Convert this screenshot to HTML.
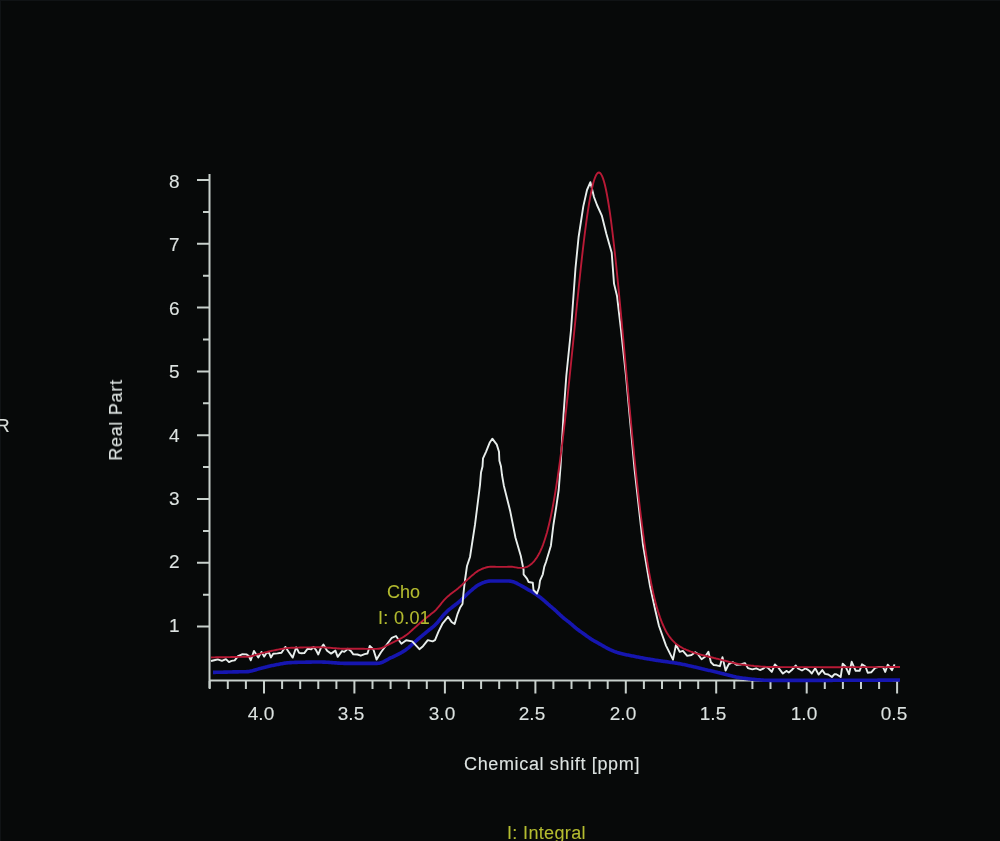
<!DOCTYPE html>
<html><head><meta charset="utf-8"><style>
html,body{margin:0;padding:0;}
body{width:1000px;height:841px;overflow:hidden;background:#070909;box-shadow:inset 1px 1px 0 #101315;position:relative;font-family:"Liberation Sans",sans-serif;}
svg{position:absolute;left:0;top:0;filter:blur(0.35px);}
.yl{position:absolute;left:140px;width:39.5px;text-align:right;color:#dde3e1;font-size:19px;line-height:22px;}
.xl{position:absolute;top:702.8px;width:80px;text-align:center;color:#dde3e1;font-size:19px;line-height:22px;}
.t{position:absolute;white-space:nowrap;font-size:18px;line-height:22px;}
.t,.xl,.yl{-webkit-text-stroke:0.1px currentColor;will-change:transform;}
</style></head><body>
<svg width="1000" height="841" viewBox="0 0 1000 841">
<g stroke="#c8d0cc" stroke-width="2" fill="none">
<path d="M209.5,174V688"/>
<path d="M209,680.5H899"/>
<path d="M197,626.6H210 M197,562.8H210 M197,499.0H210 M197,435.2H210 M197,371.4H210 M197,307.6H210 M197,243.8H210 M197,180.0H210 M203,594.7H210 M203,530.9H210 M203,467.1H210 M203,403.3H210 M203,339.5H210 M203,275.7H210 M203,211.9H210"/>
<path d="M897.1,681V693.5 M879.1,681V689 M861.0,681V689 M842.9,681V689 M824.8,681V689 M806.7,681V693.5 M788.6,681V689 M770.5,681V689 M752.4,681V689 M734.3,681V689 M716.2,681V693.5 M698.2,681V689 M680.1,681V689 M662.0,681V689 M643.9,681V689 M625.8,681V693.5 M607.7,681V689 M589.6,681V689 M571.5,681V689 M553.4,681V689 M535.4,681V693.5 M517.3,681V689 M499.2,681V689 M481.1,681V689 M463.0,681V689 M444.9,681V693.5 M426.8,681V689 M408.7,681V689 M390.6,681V689 M372.5,681V689 M354.4,681V693.5 M336.4,681V689 M318.3,681V689 M300.2,681V689 M282.1,681V689 M264.0,681V693.5 M245.9,681V689 M227.8,681V689 M209.7,681V689"/>
</g>
<path d="M213.0,672.4 L214.0,672.4 L215.0,672.4 L216.0,672.3 L217.0,672.3 L218.0,672.3 L219.0,672.3 L220.0,672.2 L221.0,672.2 L222.0,672.2 L223.0,672.2 L224.0,672.1 L225.0,672.1 L226.0,672.1 L227.0,672.1 L228.0,672.0 L229.0,672.0 L230.0,672.0 L231.0,672.0 L232.0,672.0 L233.0,671.9 L234.0,671.9 L235.0,671.9 L236.0,671.9 L237.0,671.9 L238.0,671.9 L239.0,671.8 L240.0,671.8 L241.0,671.8 L242.0,671.8 L243.0,671.8 L244.0,671.7 L245.0,671.7 L246.0,671.7 L247.0,671.6 L248.0,671.6 L249.0,671.5 L250.0,671.3 L251.0,671.1 L252.0,670.9 L253.0,670.6 L254.0,670.3 L255.0,670.0 L256.0,669.7 L257.0,669.4 L258.0,669.1 L259.0,668.8 L260.0,668.5 L261.0,668.3 L262.0,668.0 L263.0,667.8 L264.0,667.5 L265.0,667.3 L266.0,667.0 L267.0,666.8 L268.0,666.5 L269.0,666.3 L270.0,666.1 L271.0,665.8 L272.0,665.6 L273.0,665.4 L274.0,665.2 L275.0,665.0 L276.0,664.8 L277.0,664.6 L278.0,664.4 L279.0,664.2 L280.0,664.0 L281.0,663.8 L282.0,663.7 L283.0,663.5 L284.0,663.3 L285.0,663.1 L286.0,663.0 L287.0,662.9 L288.0,662.8 L289.0,662.7 L290.0,662.6 L291.0,662.6 L292.0,662.5 L293.0,662.5 L294.0,662.5 L295.0,662.4 L296.0,662.4 L297.0,662.4 L298.0,662.3 L299.0,662.3 L300.0,662.3 L301.0,662.2 L302.0,662.2 L303.0,662.2 L304.0,662.2 L305.0,662.2 L306.0,662.1 L307.0,662.1 L308.0,662.1 L309.0,662.1 L310.0,662.1 L311.0,662.1 L312.0,662.0 L313.0,662.0 L314.0,662.0 L315.0,662.0 L316.0,662.0 L317.0,662.0 L318.0,662.0 L319.0,662.0 L320.0,662.0 L321.0,662.0 L322.0,662.0 L323.0,662.1 L324.0,662.1 L325.0,662.1 L326.0,662.2 L327.0,662.3 L328.0,662.3 L329.0,662.4 L330.0,662.5 L331.0,662.5 L332.0,662.6 L333.0,662.7 L334.0,662.8 L335.0,662.9 L336.0,662.9 L337.0,663.0 L338.0,663.1 L339.0,663.1 L340.0,663.2 L341.0,663.3 L342.0,663.3 L343.0,663.3 L344.0,663.4 L345.0,663.4 L346.0,663.4 L347.0,663.4 L348.0,663.4 L349.0,663.4 L350.0,663.4 L351.0,663.4 L352.0,663.4 L353.0,663.4 L354.0,663.4 L355.0,663.4 L356.0,663.4 L357.0,663.4 L358.0,663.4 L359.0,663.4 L360.0,663.4 L361.0,663.4 L362.0,663.4 L363.0,663.4 L364.0,663.4 L365.0,663.4 L366.0,663.4 L367.0,663.4 L368.0,663.4 L369.0,663.4 L370.0,663.4 L371.0,663.4 L372.0,663.4 L373.0,663.4 L374.0,663.4 L375.0,663.4 L376.0,663.4 L377.0,663.4 L378.0,663.3 L379.0,663.2 L380.0,663.0 L381.0,662.8 L382.0,662.4 L383.0,662.0 L384.0,661.5 L385.0,660.9 L386.0,660.4 L387.0,659.8 L388.0,659.3 L389.0,658.7 L390.0,658.2 L391.0,657.7 L392.0,657.3 L393.0,656.8 L394.0,656.3 L395.0,655.8 L396.0,655.4 L397.0,654.9 L398.0,654.4 L399.0,653.9 L400.0,653.3 L401.0,652.8 L402.0,652.2 L403.0,651.6 L404.0,651.0 L405.0,650.4 L406.0,649.7 L407.0,648.9 L408.0,648.1 L409.0,647.3 L410.0,646.4 L411.0,645.6 L412.0,644.6 L413.0,643.7 L414.0,642.8 L415.0,641.9 L416.0,641.0 L417.0,640.1 L418.0,639.2 L419.0,638.3 L420.0,637.5 L421.0,636.6 L422.0,635.8 L423.0,635.0 L424.0,634.1 L425.0,633.3 L426.0,632.5 L427.0,631.6 L428.0,630.8 L429.0,630.0 L430.0,629.2 L431.0,628.5 L432.0,627.7 L433.0,626.9 L434.0,626.0 L435.0,625.1 L436.0,624.1 L437.0,623.0 L438.0,621.9 L439.0,620.6 L440.0,619.4 L441.0,618.1 L442.0,616.9 L443.0,615.6 L444.0,614.5 L445.0,613.4 L446.0,612.4 L447.0,611.4 L448.0,610.5 L449.0,609.7 L450.0,608.9 L451.0,608.1 L452.0,607.3 L453.0,606.5 L454.0,605.8 L455.0,605.0 L456.0,604.2 L457.0,603.5 L458.0,602.7 L459.0,601.8 L460.0,601.0 L461.0,600.1 L462.0,599.1 L463.0,598.2 L464.0,597.2 L465.0,596.2 L466.0,595.2 L467.0,594.3 L468.0,593.3 L469.0,592.4 L470.0,591.5 L471.0,590.6 L472.0,589.8 L473.0,588.9 L474.0,588.1 L475.0,587.3 L476.0,586.5 L477.0,585.8 L478.0,585.1 L479.0,584.6 L480.0,584.1 L481.0,583.6 L482.0,583.2 L483.0,582.7 L484.0,582.4 L485.0,582.0 L486.0,581.7 L487.0,581.4 L488.0,581.2 L489.0,581.1 L490.0,581.0 L491.0,581.0 L492.0,581.0 L493.0,581.0 L494.0,581.0 L495.0,581.0 L496.0,581.0 L497.0,581.0 L498.0,581.0 L499.0,581.0 L500.0,581.0 L501.0,581.0 L502.0,581.0 L503.0,581.0 L504.0,581.0 L505.0,581.0 L506.0,581.0 L507.0,581.0 L508.0,581.0 L509.0,581.0 L510.0,581.1 L511.0,581.2 L512.0,581.4 L513.0,581.7 L514.0,582.0 L515.0,582.5 L516.0,582.9 L517.0,583.4 L518.0,584.0 L519.0,584.5 L520.0,585.0 L521.0,585.5 L522.0,586.1 L523.0,586.6 L524.0,587.2 L525.0,587.8 L526.0,588.4 L527.0,589.0 L528.0,589.6 L529.0,590.1 L530.0,590.7 L531.0,591.2 L532.0,591.8 L533.0,592.4 L534.0,593.0 L535.0,593.7 L536.0,594.3 L537.0,595.0 L538.0,595.8 L539.0,596.5 L540.0,597.2 L541.0,598.0 L542.0,598.8 L543.0,599.7 L544.0,600.5 L545.0,601.4 L546.0,602.3 L547.0,603.2 L548.0,604.1 L549.0,604.9 L550.0,605.8 L551.0,606.6 L552.0,607.5 L553.0,608.4 L554.0,609.2 L555.0,610.1 L556.0,611.0 L557.0,611.9 L558.0,612.9 L559.0,613.8 L560.0,614.8 L561.0,615.7 L562.0,616.6 L563.0,617.5 L564.0,618.3 L565.0,619.1 L566.0,619.9 L567.0,620.7 L568.0,621.4 L569.0,622.2 L570.0,623.0 L571.0,623.9 L572.0,624.7 L573.0,625.6 L574.0,626.5 L575.0,627.3 L576.0,628.2 L577.0,629.0 L578.0,629.7 L579.0,630.5 L580.0,631.2 L581.0,631.9 L582.0,632.6 L583.0,633.3 L584.0,634.0 L585.0,634.7 L586.0,635.5 L587.0,636.2 L588.0,636.9 L589.0,637.6 L590.0,638.3 L591.0,639.0 L592.0,639.6 L593.0,640.2 L594.0,640.8 L595.0,641.3 L596.0,641.9 L597.0,642.4 L598.0,643.0 L599.0,643.6 L600.0,644.2 L601.0,644.7 L602.0,645.3 L603.0,645.9 L604.0,646.4 L605.0,647.0 L606.0,647.5 L607.0,648.1 L608.0,648.6 L609.0,649.1 L610.0,649.6 L611.0,650.0 L612.0,650.5 L613.0,650.9 L614.0,651.3 L615.0,651.7 L616.0,652.0 L617.0,652.4 L618.0,652.7 L619.0,653.0 L620.0,653.3 L621.0,653.6 L622.0,653.8 L623.0,654.1 L624.0,654.3 L625.0,654.5 L626.0,654.7 L627.0,654.9 L628.0,655.1 L629.0,655.3 L630.0,655.5 L631.0,655.7 L632.0,655.9 L633.0,656.1 L634.0,656.3 L635.0,656.5 L636.0,656.7 L637.0,656.9 L638.0,657.1 L639.0,657.3 L640.0,657.5 L641.0,657.7 L642.0,657.8 L643.0,658.0 L644.0,658.2 L645.0,658.4 L646.0,658.6 L647.0,658.7 L648.0,658.9 L649.0,659.1 L650.0,659.3 L651.0,659.4 L652.0,659.6 L653.0,659.8 L654.0,659.9 L655.0,660.1 L656.0,660.2 L657.0,660.4 L658.0,660.5 L659.0,660.7 L660.0,660.8 L661.0,661.0 L662.0,661.1 L663.0,661.2 L664.0,661.4 L665.0,661.5 L666.0,661.6 L667.0,661.8 L668.0,661.9 L669.0,662.1 L670.0,662.2 L671.0,662.4 L672.0,662.5 L673.0,662.6 L674.0,662.8 L675.0,663.0 L676.0,663.1 L677.0,663.3 L678.0,663.5 L679.0,663.6 L680.0,663.8 L681.0,664.0 L682.0,664.2 L683.0,664.4 L684.0,664.6 L685.0,664.8 L686.0,665.0 L687.0,665.2 L688.0,665.5 L689.0,665.7 L690.0,665.9 L691.0,666.1 L692.0,666.4 L693.0,666.6 L694.0,666.9 L695.0,667.1 L696.0,667.3 L697.0,667.6 L698.0,667.8 L699.0,668.1 L700.0,668.3 L701.0,668.5 L702.0,668.8 L703.0,669.0 L704.0,669.2 L705.0,669.5 L706.0,669.7 L707.0,669.9 L708.0,670.2 L709.0,670.4 L710.0,670.6 L711.0,670.8 L712.0,671.1 L713.0,671.3 L714.0,671.5 L715.0,671.8 L716.0,672.0 L717.0,672.2 L718.0,672.5 L719.0,672.7 L720.0,673.0 L721.0,673.2 L722.0,673.5 L723.0,673.7 L724.0,674.0 L725.0,674.3 L726.0,674.5 L727.0,674.8 L728.0,675.0 L729.0,675.3 L730.0,675.6 L731.0,675.8 L732.0,676.0 L733.0,676.3 L734.0,676.5 L735.0,676.7 L736.0,677.0 L737.0,677.2 L738.0,677.4 L739.0,677.5 L740.0,677.7 L741.0,677.9 L742.0,678.0 L743.0,678.2 L744.0,678.3 L745.0,678.4 L746.0,678.5 L747.0,678.6 L748.0,678.7 L749.0,678.9 L750.0,679.0 L751.0,679.1 L752.0,679.2 L753.0,679.3 L754.0,679.4 L755.0,679.5 L756.0,679.6 L757.0,679.7 L758.0,679.7 L759.0,679.8 L760.0,679.9 L761.0,680.0 L762.0,680.0 L763.0,680.1 L764.0,680.2 L765.0,680.2 L766.0,680.3 L767.0,680.3 L768.0,680.3 L769.0,680.4 L770.0,680.4 L771.0,680.4 L772.0,680.4 L773.0,680.4 L774.0,680.4 L775.0,680.4 L776.0,680.4 L777.0,680.4 L778.0,680.4 L779.0,680.4 L780.0,680.4 L781.0,680.4 L782.0,680.4 L783.0,680.4 L784.0,680.4 L785.0,680.4 L786.0,680.4 L787.0,680.4 L788.0,680.4 L789.0,680.4 L790.0,680.4 L791.0,680.4 L792.0,680.4 L793.0,680.4 L794.0,680.4 L795.0,680.4 L796.0,680.4 L797.0,680.4 L798.0,680.4 L799.0,680.4 L800.0,680.4 L801.0,680.4 L802.0,680.4 L803.0,680.4 L804.0,680.4 L805.0,680.4 L806.0,680.4 L807.0,680.4 L808.0,680.4 L809.0,680.4 L810.0,680.4 L811.0,680.4 L812.0,680.4 L813.0,680.4 L814.0,680.4 L815.0,680.4 L816.0,680.4 L817.0,680.4 L818.0,680.4 L819.0,680.4 L820.0,680.4 L821.0,680.4 L822.0,680.4 L823.0,680.4 L824.0,680.4 L825.0,680.4 L826.0,680.4 L827.0,680.4 L828.0,680.4 L829.0,680.4 L830.0,680.4 L831.0,680.4 L832.0,680.4 L833.0,680.3 L834.0,680.3 L835.0,680.3 L836.0,680.3 L837.0,680.3 L838.0,680.3 L839.0,680.3 L840.0,680.3 L841.0,680.3 L842.0,680.3 L843.0,680.3 L844.0,680.3 L845.0,680.3 L846.0,680.3 L847.0,680.3 L848.0,680.3 L849.0,680.3 L850.0,680.3 L851.0,680.3 L852.0,680.3 L853.0,680.3 L854.0,680.3 L855.0,680.3 L856.0,680.3 L857.0,680.3 L858.0,680.3 L859.0,680.2 L860.0,680.2 L861.0,680.2 L862.0,680.2 L863.0,680.2 L864.0,680.2 L865.0,680.2 L866.0,680.2 L867.0,680.2 L868.0,680.2 L869.0,680.2 L870.0,680.2 L871.0,680.2 L872.0,680.2 L873.0,680.2 L874.0,680.2 L875.0,680.2 L876.0,680.2 L877.0,680.2 L878.0,680.1 L879.0,680.1 L880.0,680.1 L881.0,680.1 L882.0,680.1 L883.0,680.1 L884.0,680.1 L885.0,680.1 L886.0,680.1 L887.0,680.1 L888.0,680.1 L889.0,680.1 L890.0,680.1 L891.0,680.1 L892.0,680.1 L893.0,680.0 L894.0,680.0 L895.0,680.0 L896.0,680.0 L897.0,680.0 L898.0,680.0 L899.0,680.0 L900.0,680.0" stroke="#1616b0" stroke-width="3.6" fill="none" stroke-linejoin="round"/>
<path d="M211.0,661.0 L215.2,660.0 L217.7,659.4 L221.9,660.9 L225.9,659.1 L229.0,662.1 L231.6,660.9 L234.7,660.4 L238.0,656.1 L242.0,654.3 L246.4,654.4 L248.8,656.0 L250.8,660.3 L254.0,650.9 L258.3,657.5 L261.5,651.9 L264.1,656.6 L266.5,653.0 L268.9,652.4 L270.9,657.4 L273.2,653.7 L277.4,653.4 L281.5,652.7 L285.3,646.9 L288.6,651.8 L292.7,657.6 L296.2,647.3 L299.1,652.9 L301.4,653.2 L304.3,653.1 L307.7,648.7 L311.3,649.4 L313.6,647.0 L316.1,650.2 L318.3,654.5 L320.7,648.3 L323.4,644.5 L327.1,650.8 L331.1,653.6 L335.4,650.6 L337.7,656.8 L342.0,651.2 L344.3,651.9 L347.9,648.7 L350.8,650.9 L353.3,654.4 L357.5,654.5 L360.8,655.7 L364.6,654.2 L367.5,653.5 L369.8,645.9 L373.4,649.5 L376.6,659.6 L381.0,652.2 L391.8,637.8 L396.0,636.0 L401.4,643.8 L406.2,640.2 L412.2,641.4 L419.4,649.2 L423.0,646.2 L427.8,640.2 L432.6,641.4 L435.0,640.2 L438.5,631.6 L442.7,623.3 L448.0,616.8 L451.6,622.0 L454.6,624.0 L457.6,613.8 L460.0,607.8 L462.5,604.0 L463.5,593.0 L465.0,580.0 L467.0,566.0 L470.0,557.0 L475.0,524.7 L480.0,485.0 L481.0,472.6 L482.5,466.6 L483.0,458.3 L486.0,451.8 L489.6,442.8 L492.3,438.7 L496.8,444.6 L499.0,451.8 L499.4,460.7 L501.0,466.6 L502.0,475.0 L503.8,485.4 L510.3,511.6 L515.5,537.8 L520.8,556.0 L523.6,570.0 L523.6,574.3 L527.0,578.6 L528.6,582.0 L532.8,582.8 L533.5,590.0 L537.0,593.5 L539.0,587.8 L540.0,580.7 L542.8,574.3 L544.3,566.6 L546.0,562.0 L550.9,545.7 L553.4,525.0 L556.6,504.7 L558.7,490.0 L560.6,465.4 L563.5,415.0 L566.3,376.0 L571.0,330.0 L575.5,268.0 L578.6,237.0 L583.3,206.4 L587.0,190.0 L590.4,182.2 L594.0,197.0 L597.0,205.0 L601.8,215.6 L606.4,234.0 L611.7,252.7 L614.0,283.6 L617.0,296.0 L621.0,330.0 L626.0,376.0 L630.0,420.0 L634.5,469.0 L643.0,544.8 L650.0,586.0 L655.0,609.0 L659.0,626.0 L666.0,645.6 L673.0,659.6 L676.0,644.6 L679.7,651.9 L682.9,650.9 L687.2,655.9 L691.5,655.0 L695.3,652.2 L697.6,653.7 L701.6,659.2 L705.1,656.8 L708.4,651.7 L710.9,662.3 L713.7,665.0 L716.5,665.3 L719.9,666.2 L722.5,657.1 L725.6,670.5 L728.8,664.1 L733.0,662.2 L736.4,664.8 L740.6,664.5 L744.9,663.1 L747.9,668.1 L752.3,669.3 L756.2,668.3 L760.0,670.0 L762.8,668.9 L765.2,666.9 L767.7,667.6 L771.8,671.9 L774.9,664.4 L778.5,667.9 L782.9,673.6 L786.4,670.9 L788.8,672.5 L791.8,670.0 L795.8,665.5 L798.0,668.5 L802.0,670.5 L805.2,668.5 L807.3,669.4 L809.2,670.7 L811.8,673.5 L815.2,668.3 L818.6,674.6 L822.3,670.1 L825.0,673.9 L828.3,674.5 L831.9,677.0 L834.3,674.3 L836.3,674.3 L840.7,676.9 L842.7,663.6 L845.5,666.4 L849.0,674.2 L851.7,661.8 L855.7,670.8 L859.6,670.8 L862.0,664.3 L865.5,666.5 L867.7,672.7 L871.2,672.3 L875.2,667.8 L879.0,666.9 L883.2,667.3 L885.2,672.0 L887.7,664.7 L892.0,670.2 L894.6,664.4" stroke="#e8eeec" stroke-width="1.9" fill="none" stroke-linejoin="round"/>
<path d="M211.0,657.5 L212.0,657.4 L213.0,657.4 L214.0,657.4 L215.0,657.4 L216.0,657.3 L217.0,657.3 L218.0,657.3 L219.0,657.3 L220.0,657.3 L221.0,657.2 L222.0,657.2 L223.0,657.2 L224.0,657.2 L225.0,657.2 L226.0,657.1 L227.0,657.1 L228.0,657.1 L229.0,657.1 L230.0,657.1 L231.0,657.0 L232.0,657.0 L233.0,657.0 L234.0,657.0 L235.0,657.0 L236.0,657.0 L237.0,657.0 L238.0,656.9 L239.0,656.9 L240.0,656.9 L241.0,656.9 L242.0,656.9 L243.0,656.9 L244.0,656.8 L245.0,656.8 L246.0,656.8 L247.0,656.7 L248.0,656.7 L249.0,656.6 L250.0,656.4 L251.0,656.3 L252.0,656.0 L253.0,655.8 L254.0,655.5 L255.0,655.2 L256.0,654.8 L257.0,654.5 L258.0,654.2 L259.0,653.9 L260.0,653.7 L261.0,653.4 L262.0,653.2 L263.0,652.9 L264.0,652.7 L265.0,652.4 L266.0,652.2 L267.0,652.0 L268.0,651.7 L269.0,651.5 L270.0,651.3 L271.0,651.0 L272.0,650.8 L273.0,650.6 L274.0,650.4 L275.0,650.2 L276.0,650.0 L277.0,649.8 L278.0,649.6 L279.0,649.4 L280.0,649.2 L281.0,649.0 L282.0,648.9 L283.0,648.7 L284.0,648.5 L285.0,648.4 L286.0,648.2 L287.0,648.1 L288.0,648.0 L289.0,647.9 L290.0,647.9 L291.0,647.8 L292.0,647.8 L293.0,647.7 L294.0,647.7 L295.0,647.7 L296.0,647.6 L297.0,647.6 L298.0,647.6 L299.0,647.6 L300.0,647.5 L301.0,647.5 L302.0,647.5 L303.0,647.5 L304.0,647.4 L305.0,647.4 L306.0,647.4 L307.0,647.4 L308.0,647.4 L309.0,647.4 L310.0,647.4 L311.0,647.4 L312.0,647.3 L313.0,647.3 L314.0,647.3 L315.0,647.3 L316.0,647.3 L317.0,647.3 L318.0,647.3 L319.0,647.3 L320.0,647.3 L321.0,647.3 L322.0,647.4 L323.0,647.4 L324.0,647.4 L325.0,647.5 L326.0,647.5 L327.0,647.6 L328.0,647.7 L329.0,647.7 L330.0,647.8 L331.0,647.9 L332.0,648.0 L333.0,648.1 L334.0,648.1 L335.0,648.2 L336.0,648.3 L337.0,648.4 L338.0,648.5 L339.0,648.5 L340.0,648.6 L341.0,648.6 L342.0,648.7 L343.0,648.7 L344.0,648.8 L345.0,648.8 L346.0,648.8 L347.0,648.8 L348.0,648.8 L349.0,648.8 L350.0,648.8 L351.0,648.8 L352.0,648.8 L353.0,648.8 L354.0,648.8 L355.0,648.8 L356.0,648.8 L357.0,648.8 L358.0,648.8 L359.0,648.8 L360.0,648.8 L361.0,648.8 L362.0,648.8 L363.0,648.8 L364.0,648.8 L365.0,648.9 L366.0,648.9 L367.0,648.9 L368.0,648.9 L369.0,648.9 L370.0,648.9 L371.0,648.9 L372.0,648.9 L373.0,648.9 L374.0,648.9 L375.0,648.9 L376.0,648.9 L377.0,648.9 L378.0,648.8 L379.0,648.7 L380.0,648.5 L381.0,648.3 L382.0,647.9 L383.0,647.5 L384.0,647.0 L385.0,646.4 L386.0,645.9 L387.0,645.3 L388.0,644.8 L389.0,644.3 L390.0,643.8 L391.0,643.3 L392.0,642.8 L393.0,642.3 L394.0,641.9 L395.0,641.4 L396.0,640.9 L397.0,640.4 L398.0,639.9 L399.0,639.4 L400.0,638.9 L401.0,638.3 L402.0,637.8 L403.0,637.2 L404.0,636.6 L405.0,635.9 L406.0,635.2 L407.0,634.5 L408.0,633.7 L409.0,632.9 L410.0,632.0 L411.0,631.1 L412.0,630.2 L413.0,629.3 L414.0,628.4 L415.0,627.5 L416.0,626.6 L417.0,625.7 L418.0,624.8 L419.0,623.9 L420.0,623.1 L421.0,622.3 L422.0,621.4 L423.0,620.6 L424.0,619.7 L425.0,618.9 L426.0,618.1 L427.0,617.3 L428.0,616.5 L429.0,615.7 L430.0,614.9 L431.0,614.1 L432.0,613.3 L433.0,612.5 L434.0,611.7 L435.0,610.8 L436.0,609.8 L437.0,608.7 L438.0,607.5 L439.0,606.3 L440.0,605.1 L441.0,603.8 L442.0,602.5 L443.0,601.3 L444.0,600.2 L445.0,599.1 L446.0,598.1 L447.0,597.1 L448.0,596.2 L449.0,595.4 L450.0,594.6 L451.0,593.8 L452.0,593.0 L453.0,592.2 L454.0,591.5 L455.0,590.7 L456.0,590.0 L457.0,589.2 L458.0,588.4 L459.0,587.5 L460.0,586.7 L461.0,585.8 L462.0,584.9 L463.0,583.9 L464.0,582.9 L465.0,581.9 L466.0,581.0 L467.0,580.0 L468.0,579.1 L469.0,578.2 L470.0,577.3 L471.0,576.4 L472.0,575.5 L473.0,574.7 L474.0,573.9 L475.0,573.0 L476.0,572.3 L477.0,571.6 L478.0,570.9 L479.0,570.3 L480.0,569.8 L481.0,569.4 L482.0,568.9 L483.0,568.5 L484.0,568.1 L485.0,567.8 L486.0,567.5 L487.0,567.2 L488.0,567.0 L489.0,566.9 L490.0,566.8 L491.0,566.8 L492.0,566.8 L493.0,566.8 L494.0,566.8 L495.0,566.8 L496.0,566.9 L497.0,566.9 L498.0,566.9 L499.0,566.9 L500.0,566.9 L501.0,566.9 L502.0,566.9 L503.0,566.9 L504.0,566.9 L505.0,566.9 L506.0,566.9 L507.0,566.9 L508.0,566.8 L509.0,566.8 L510.0,566.7 L511.0,566.7 L512.0,566.8 L513.0,566.9 L514.0,567.1 L515.0,567.3 L516.0,567.4 L517.0,567.6 L518.0,567.8 L519.0,567.9 L520.0,567.9 L521.0,567.9 L522.0,567.9 L523.0,567.8 L524.0,567.6 L525.0,567.4 L526.0,567.1 L527.0,566.8 L528.0,566.3 L529.0,565.7 L530.0,565.0 L531.0,564.2 L532.0,563.4 L533.0,562.4 L534.0,561.3 L535.0,560.0 L536.0,558.7 L537.0,557.2 L538.0,555.6 L539.0,553.8 L540.0,551.8 L541.0,549.6 L542.0,547.3 L543.0,544.8 L544.0,542.0 L545.0,539.0 L546.0,535.8 L547.0,532.4 L548.0,528.6 L549.0,524.6 L550.0,520.2 L551.0,515.6 L552.0,510.7 L553.0,505.5 L554.0,499.9 L555.0,494.1 L556.0,488.0 L557.0,481.6 L558.0,475.0 L559.0,468.0 L560.0,460.7 L561.0,453.2 L562.0,445.3 L563.0,437.1 L564.0,428.7 L565.0,420.0 L566.0,411.0 L567.0,401.8 L568.0,392.4 L569.0,382.9 L570.0,373.2 L571.0,363.5 L572.0,353.7 L573.0,343.8 L574.0,334.0 L575.0,324.1 L576.0,314.2 L577.0,304.4 L578.0,294.6 L579.0,285.0 L580.0,275.5 L581.0,266.2 L582.0,257.1 L583.0,248.4 L584.0,240.0 L585.0,231.9 L586.0,224.3 L587.0,217.0 L588.0,210.3 L589.0,204.0 L590.0,198.2 L591.0,192.9 L592.0,188.2 L593.0,184.0 L594.0,180.5 L595.0,177.6 L596.0,175.3 L597.0,173.7 L598.0,172.7 L599.0,172.5 L600.0,172.9 L601.0,174.1 L602.0,175.9 L603.0,178.4 L604.0,181.5 L605.0,185.3 L606.0,189.8 L607.0,194.8 L608.0,200.5 L609.0,206.7 L610.0,213.4 L611.0,220.7 L612.0,228.5 L613.0,236.7 L614.0,245.3 L615.0,254.3 L616.0,263.7 L617.0,273.3 L618.0,283.3 L619.0,293.5 L620.0,304.0 L621.0,314.6 L622.0,325.3 L623.0,336.1 L624.0,347.1 L625.0,358.0 L626.0,369.0 L627.0,380.0 L628.0,390.9 L629.0,401.7 L630.0,412.4 L631.0,422.9 L632.0,433.4 L633.0,443.6 L634.0,453.6 L635.0,463.5 L636.0,473.1 L637.0,482.4 L638.0,491.5 L639.0,500.3 L640.0,508.8 L641.0,517.0 L642.0,524.9 L643.0,532.5 L644.0,539.8 L645.0,546.8 L646.0,553.5 L647.0,559.9 L648.0,566.0 L649.0,571.8 L650.0,577.2 L651.0,582.4 L652.0,587.3 L653.0,592.0 L654.0,596.3 L655.0,600.4 L656.0,604.3 L657.0,607.9 L658.0,611.3 L659.0,614.4 L660.0,617.4 L661.0,620.1 L662.0,622.7 L663.0,625.0 L664.0,627.2 L665.0,629.3 L666.0,631.2 L667.0,632.9 L668.0,634.5 L669.0,636.0 L670.0,637.4 L671.0,638.7 L672.0,639.8 L673.0,640.9 L674.0,641.9 L675.0,642.9 L676.0,643.7 L677.0,644.5 L678.0,645.2 L679.0,645.9 L680.0,646.6 L681.0,647.2 L682.0,647.7 L683.0,648.3 L684.0,648.8 L685.0,649.2 L686.0,649.7 L687.0,650.1 L688.0,650.5 L689.0,650.9 L690.0,651.3 L691.0,651.7 L692.0,652.0 L693.0,652.4 L694.0,652.7 L695.0,653.0 L696.0,653.3 L697.0,653.6 L698.0,653.9 L699.0,654.2 L700.0,654.5 L701.0,654.8 L702.0,655.0 L703.0,655.3 L704.0,655.5 L705.0,655.8 L706.0,656.0 L707.0,656.3 L708.0,656.5 L709.0,656.8 L710.0,657.0 L711.0,657.3 L712.0,657.5 L713.0,657.7 L714.0,658.0 L715.0,658.2 L716.0,658.5 L717.0,658.7 L718.0,658.9 L719.0,659.2 L720.0,659.4 L721.0,659.7 L722.0,660.0 L723.0,660.2 L724.0,660.5 L725.0,660.7 L726.0,661.0 L727.0,661.3 L728.0,661.5 L729.0,661.8 L730.0,662.1 L731.0,662.3 L732.0,662.6 L733.0,662.8 L734.0,663.0 L735.0,663.3 L736.0,663.5 L737.0,663.7 L738.0,663.9 L739.0,664.1 L740.0,664.3 L741.0,664.4 L742.0,664.6 L743.0,664.7 L744.0,664.8 L745.0,665.0 L746.0,665.1 L747.0,665.2 L748.0,665.3 L749.0,665.4 L750.0,665.5 L751.0,665.6 L752.0,665.7 L753.0,665.8 L754.0,666.0 L755.0,666.1 L756.0,666.1 L757.0,666.2 L758.0,666.3 L759.0,666.4 L760.0,666.5 L761.0,666.6 L762.0,666.6 L763.0,666.7 L764.0,666.8 L765.0,666.8 L766.0,666.9 L767.0,666.9 L768.0,666.9 L769.0,667.0 L770.0,667.0 L771.0,667.0 L772.0,667.0 L773.0,667.0 L774.0,667.0 L775.0,667.0 L776.0,667.0 L777.0,667.0 L778.0,667.0 L779.0,667.0 L780.0,667.1 L781.0,667.1 L782.0,667.1 L783.0,667.1 L784.0,667.1 L785.0,667.1 L786.0,667.1 L787.0,667.1 L788.0,667.1 L789.0,667.1 L790.0,667.1 L791.0,667.1 L792.0,667.1 L793.0,667.1 L794.0,667.1 L795.0,667.1 L796.0,667.1 L797.0,667.1 L798.0,667.1 L799.0,667.1 L800.0,667.1 L801.0,667.1 L802.0,667.1 L803.0,667.1 L804.0,667.1 L805.0,667.1 L806.0,667.1 L807.0,667.1 L808.0,667.1 L809.0,667.1 L810.0,667.1 L811.0,667.1 L812.0,667.1 L813.0,667.1 L814.0,667.1 L815.0,667.1 L816.0,667.1 L817.0,667.1 L818.0,667.1 L819.0,667.1 L820.0,667.1 L821.0,667.2 L822.0,667.2 L823.0,667.2 L824.0,667.2 L825.0,667.2 L826.0,667.2 L827.0,667.2 L828.0,667.2 L829.0,667.2 L830.0,667.2 L831.0,667.2 L832.0,667.2 L833.0,667.2 L834.0,667.2 L835.0,667.2 L836.0,667.2 L837.0,667.2 L838.0,667.2 L839.0,667.2 L840.0,667.2 L841.0,667.2 L842.0,667.2 L843.0,667.2 L844.0,667.2 L845.0,667.1 L846.0,667.1 L847.0,667.1 L848.0,667.1 L849.0,667.1 L850.0,667.1 L851.0,667.1 L852.0,667.1 L853.0,667.1 L854.0,667.1 L855.0,667.1 L856.0,667.1 L857.0,667.1 L858.0,667.1 L859.0,667.1 L860.0,667.1 L861.0,667.1 L862.0,667.1 L863.0,667.1 L864.0,667.1 L865.0,667.1 L866.0,667.1 L867.0,667.1 L868.0,667.1 L869.0,667.1 L870.0,667.1 L871.0,667.1 L872.0,667.1 L873.0,667.1 L874.0,667.1 L875.0,667.1 L876.0,667.1 L877.0,667.1 L878.0,667.1 L879.0,667.1 L880.0,667.1 L881.0,667.1 L882.0,667.1 L883.0,667.1 L884.0,667.1 L885.0,667.1 L886.0,667.1 L887.0,667.1 L888.0,667.0 L889.0,667.0 L890.0,667.0 L891.0,667.0 L892.0,667.0 L893.0,667.0 L894.0,667.0 L895.0,667.0 L896.0,667.0 L897.0,667.0 L898.0,667.0 L899.0,667.0 L900.0,667.0" stroke="#b81a36" stroke-width="1.9" fill="none" stroke-linejoin="round"/>
</svg>
<div class="yl" style="top:614.8px">1</div><div class="yl" style="top:551.3px">2</div><div class="yl" style="top:487.9px">3</div><div class="yl" style="top:424.5px">4</div><div class="yl" style="top:361.0px">5</div><div class="yl" style="top:297.6px">6</div><div class="yl" style="top:234.1px">7</div><div class="yl" style="top:170.7px">8</div>
<div class="xl" style="left:221.0px">4.0</div><div class="xl" style="left:311.4px">3.5</div><div class="xl" style="left:401.9px">3.0</div><div class="xl" style="left:492.4px">2.5</div><div class="xl" style="left:582.8px">2.0</div><div class="xl" style="left:673.2px">1.5</div><div class="xl" style="left:763.7px">1.0</div><div class="xl" style="left:854.1px">0.5</div>
<div class="t" style="left:464px;top:753px;color:#dde3e1;letter-spacing:0.65px;">Chemical shift [ppm]</div>
<div class="t" style="left:106px;top:420px;color:#dde3e1;transform:translate(-50%,-50%) rotate(-90deg);left:116px;letter-spacing:0.7px;">Real Part</div>
<div class="t" style="left:387px;top:581px;color:#b4bc30;">Cho</div>
<div class="t" style="left:378px;top:607px;color:#b4bc30;letter-spacing:0.3px;">I: 0.01</div>
<div class="t" style="left:507px;top:822px;color:#b4bc30;letter-spacing:0.35px;">I: Integral</div>
<div class="t" style="left:-4.5px;top:414.5px;color:#d8dcd8;font-size:19px;">R</div>
</body></html>
